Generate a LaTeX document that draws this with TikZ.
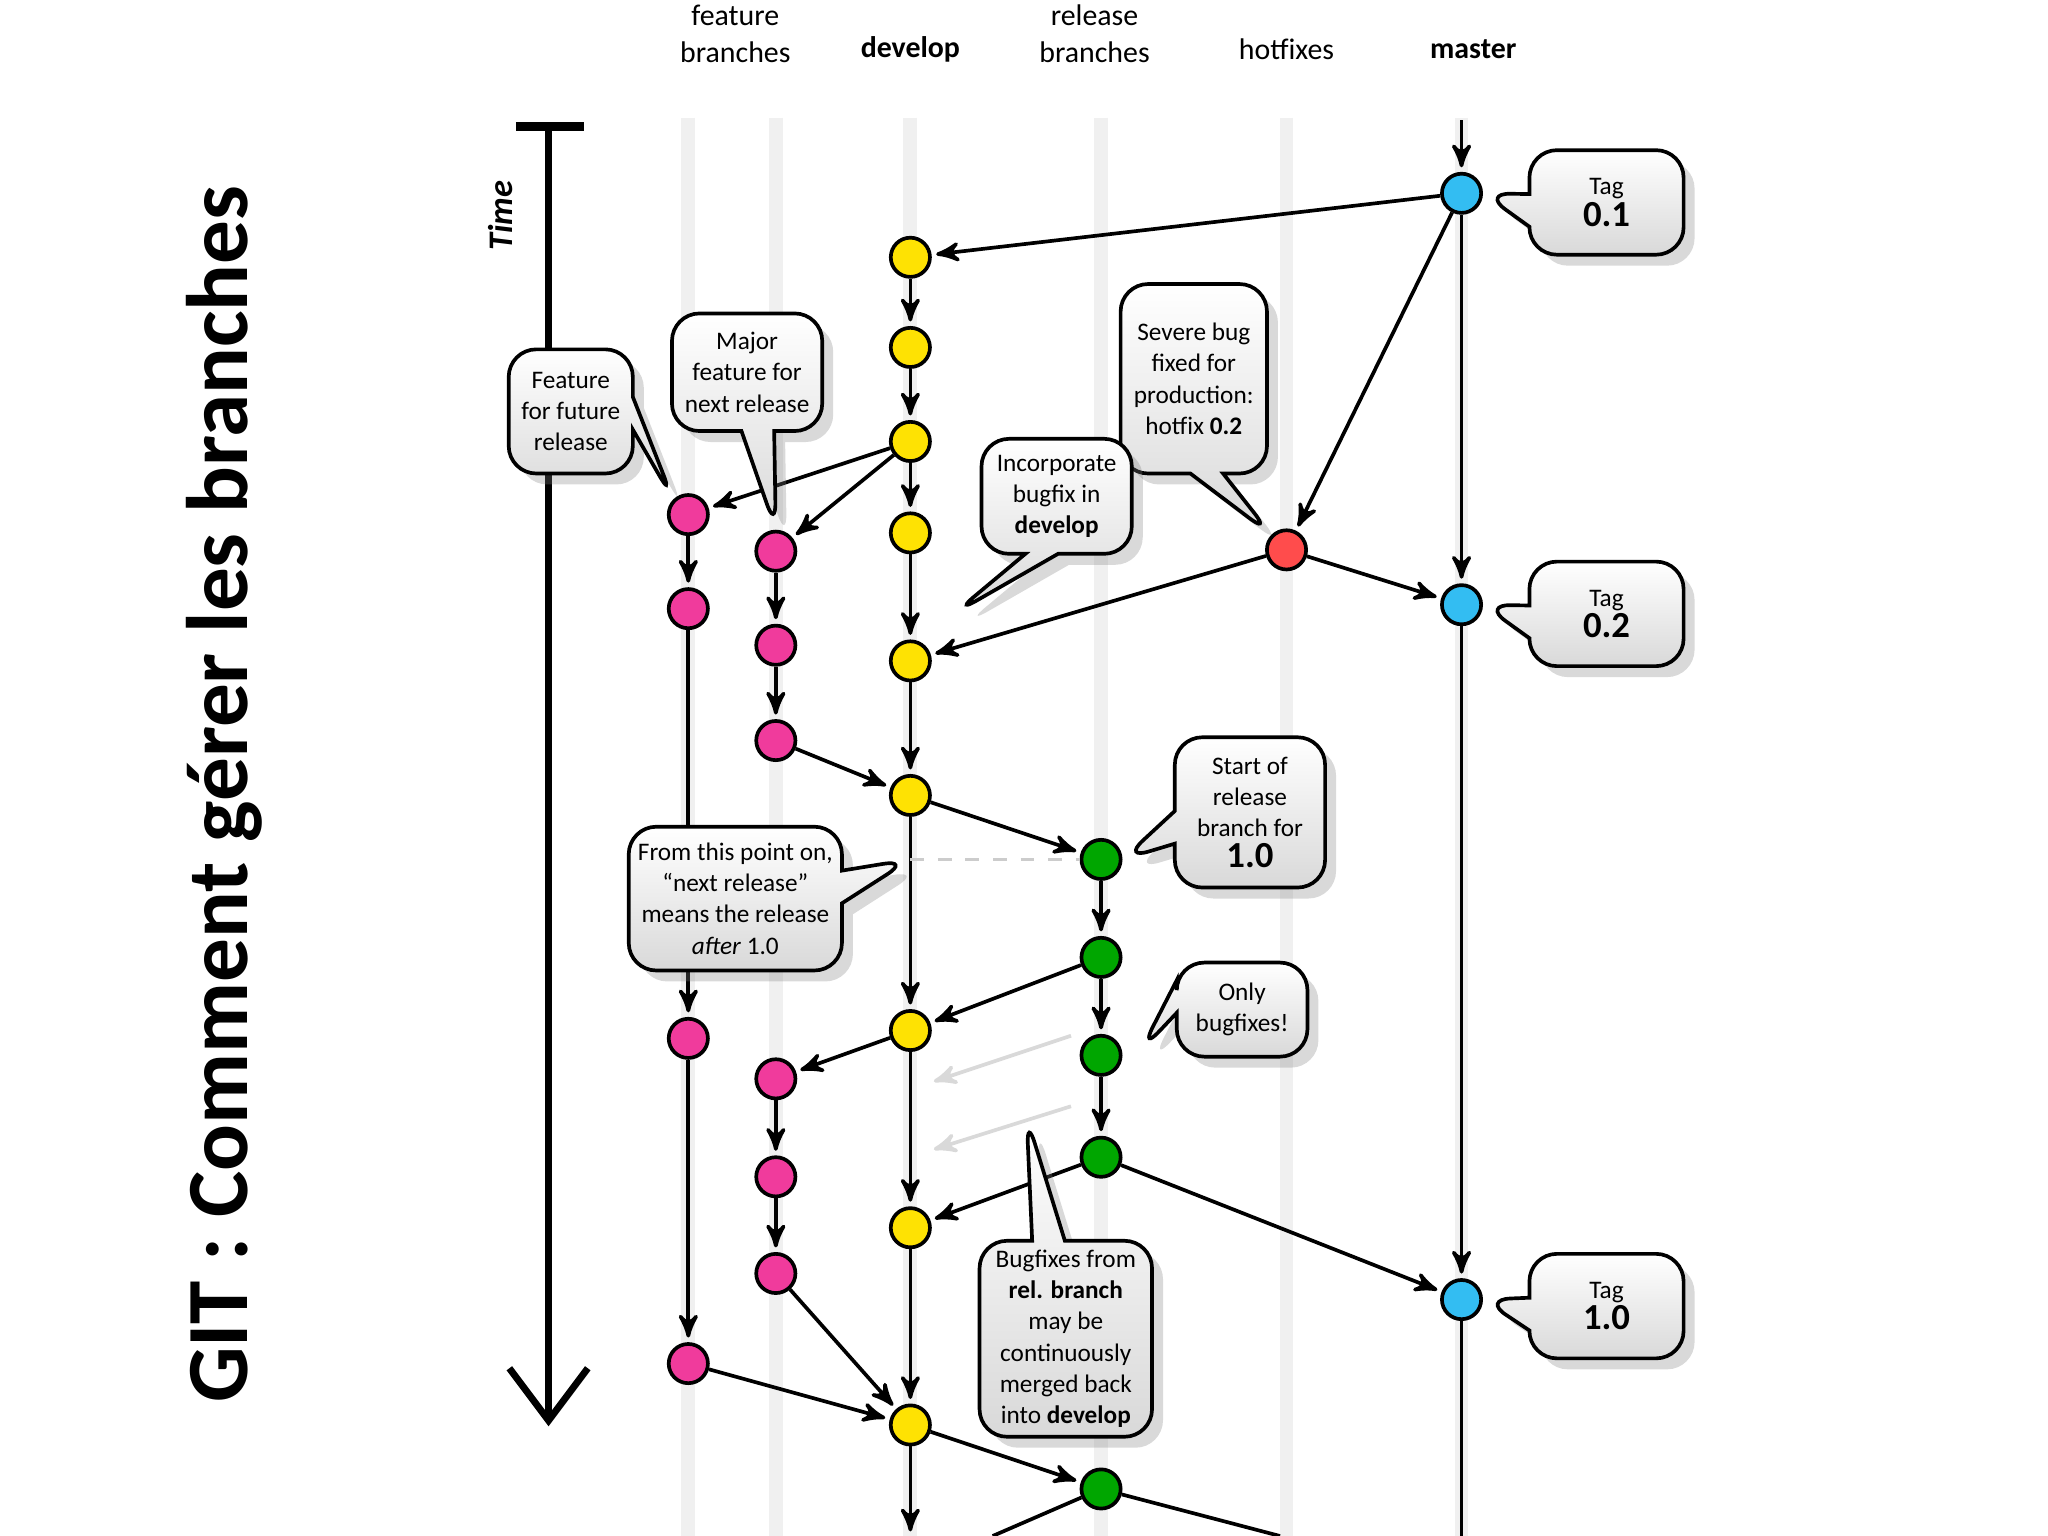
\documentclass[tikz,border=0pt]{standalone}
\usepackage{fontspec}
\setmainfont{Carlito}
\usetikzlibrary{arrows,arrows.meta,shapes.callouts,shadows}

\begin{document}
\begin{tikzpicture}[x=0.01cm,y=-0.01cm,>=stealth']
	\tikzstyle{commit}=[circle,draw,thick,minimum size=0.3cm,inner sep=0pt]
	\tikzstyle{dev}=[commit,fill=yellow!85!orange]
	\tikzstyle{feat}=[commit,fill=magenta!70!pink]
	\tikzstyle{rel}=[commit,fill=green!65!black]
	\tikzstyle{mast}=[commit,fill=cyan!80]
	\tikzstyle{hot}=[commit,fill=red!70]
	\tikzstyle{flow}=[draw,->,thick,shorten >=1pt]
	\tikzstyle{lane}=[draw,line width=3pt,gray!12]
	\tikzstyle{bubble}=[rectangle callout,draw,thick,rounded corners=6pt,top color=white,bottom color=gray!30,
		drop shadow={opacity=0.3},align=center,font=\fontsize{5.5}{6.8}\selectfont,inner sep=2pt]
	\tikzstyle{head}=[align=center,font=\fontsize{6.5}{8}\selectfont]
	\newcommand{\tagnum}[1]{\textbf{\fontsize{8}{9}\selectfont #1}}

	\useasboundingbox (0,0) rectangle (1568,1176);

	% title and time axis
	\node[rotate=90,font=\fontsize{19}{23}\selectfont\bfseries] (title) at (172,608) {GIT : Comment gérer les branches};
	\node[rotate=90,font=\fontsize{7.5}{9}\selectfont\bfseries\itshape] (time) at (383,165) {Time};
	\coordinate (t0) at (420,97);
	\coordinate (t1) at (420,1092);
	\draw[line width=2pt] (395,97) -- (447,97);
	\draw[line width=1.5pt,-{Straight Barb[length=4mm,width=6mm]}] (t0) -- (t1);

	% column headings
	\node[head] (hf) at (563,26) {feature\\branches};
	\node[head,font=\fontsize{6.5}{8}\selectfont\bfseries] (hd) at (697,38) {develop};
	\node[head] (hr) at (838,26) {release\\branches};
	\node[head] (hh) at (985,38) {hotfixes};
	\node[head,font=\fontsize{6.5}{8}\selectfont\bfseries] (hm) at (1128,38) {master};

	% lanes
	\foreach \x in {527,594,697,843,985,1119}
		\path[lane] (\x,90) -- (\x,1176);

	% commits
	\node[mast] (m1) at (1119,148) {};
	\node[mast] (m2) at (1119,463) {};
	\node[mast] (m3) at (1119,995) {};
	\node[hot] (h1) at (985,421) {};
	\node[dev] (d1) at (697,197) {};
	\node[dev] (d2) at (697,266) {};
	\node[dev] (d3) at (697,338) {};
	\node[dev] (d4) at (697,408) {};
	\node[dev] (d5) at (697,506) {};
	\node[dev] (d6) at (697,609) {};
	\node[dev] (d7) at (697,789) {};
	\node[dev] (d8) at (697,940) {};
	\node[dev] (d9) at (697,1091) {};
	\node[feat] (f1) at (527,394) {};
	\node[feat] (f2) at (527,466) {};
	\node[feat] (f3) at (527,795) {};
	\node[feat] (f4) at (527,1044) {};
	\node[feat] (g1) at (594,422) {};
	\node[feat] (g2) at (594,494) {};
	\node[feat] (g3) at (594,567) {};
	\node[feat] (g4) at (594,826) {};
	\node[feat] (g5) at (594,901) {};
	\node[feat] (g6) at (594,975) {};
	\node[rel] (r1) at (843,658) {};
	\node[rel] (r2) at (843,733) {};
	\node[rel] (r3) at (843,808) {};
	\node[rel] (r4) at (843,886) {};
	\node[rel] (r5) at (843,1140) {};

	\coordinate (mtop) at (1119,92);
	\coordinate (dend) at (697,1176);
	\coordinate (mend) at (1119,1176);
	\coordinate (rend) at (980,1176);
	\coordinate (lend) at (760,1176);
	\coordinate (dlev) at (697,658);

	% connectors
	\path[flow] (mtop) -- (m1);
	\path[flow] (m1) -- (d1);
	\path[flow] (m1) -- (h1);
	\path[flow] (m1) -- (m2);
	\path[flow] (h1) -- (m2);
	\path[flow] (h1) -- (d5);
	\path[flow] (m2) -- (m3);
	\draw[thick] (m3) -- (mend);
	\path[flow] (d1) -- (d2);
	\path[flow] (d2) -- (d3);
	\path[flow] (d3) -- (d4);
	\path[flow] (d4) -- (d5);
	\path[flow] (d5) -- (d6);
	\path[flow] (d6) -- (d7);
	\path[flow] (d7) -- (d8);
	\path[flow] (d8) -- (d9);
	\path[flow] (d9) -- (dend);
	\path[flow] (d3) -- (f1);
	\path[flow] (d3) -- (g1);
	\path[flow] (f1) -- (f2);
	\path[flow] (f2) -- (f3);
	\path[flow] (f3) -- (f4);
	\path[flow] (f4) -- (d9);
	\path[flow] (g1) -- (g2);
	\path[flow] (g2) -- (g3);
	\path[flow] (g3) -- (d6);
	\path[flow] (d6) -- (r1);
	\draw[thick,dashed,gray!40] (dlev) -- (r1);
	\path[flow] (r1) -- (r2);
	\path[flow] (r2) -- (r3);
	\path[flow] (r3) -- (r4);
	\path[flow] (r2) -- (d7);
	\path[flow] (r4) -- (d8);
	\path[flow] (r4) -- (m3);
	\path[flow] (d7) -- (g4);
	\path[flow] (g4) -- (g5);
	\path[flow] (g5) -- (g6);
	\path[flow] (g6) -- (d9);
	\path[flow] (d9) -- (r5);
	\draw[thick] (r5) -- (rend);
	\draw[thick] (lend) -- (r5);
	\draw[->,thick,gray!30] (820,793) -- (715,828);
	\draw[->,thick,gray!30] (820,847) -- (715,880);

	% callouts
	\node[bubble,minimum width=0.95cm,minimum height=0.95cm,callout absolute pointer={(f1.north west)}] (c1) at (437,315) {Feature\\for future\\release};
	\node[bubble,minimum width=1.15cm,minimum height=0.9cm,callout absolute pointer={(g1.north)}] (c2) at (572,285) {Major\\feature for\\next release};
	\node[bubble,minimum width=1.12cm,minimum height=1.45cm,callout absolute pointer={(h1.north west)}] (c3) at (914,290) {Severe bug\\fixed for\\production:\\hotfix \textbf{0.2}};
	\node[bubble,minimum width=1.15cm,minimum height=0.88cm,callout absolute pointer={(730,470)}] (c4) at (809,380) {Incorporate\\bugfix in\\\textbf{develop}};
	\node[bubble,minimum width=1.15cm,minimum height=1.15cm,callout absolute pointer={(r1.east)}] (c5) at (957,622) {Start of\\release\\branch for\\\tagnum{1.0}};
	\node[bubble,minimum width=1.6cm,minimum height=1.1cm,callout absolute pointer={(dlev)}] (c6) at (563,688) {From this point on,\\``next release''\\means the release\\\textit{after} 1.0};
	\node[bubble,minimum width=1.0cm,minimum height=0.72cm,callout absolute pointer={(873,805)}] (c7) at (951,773) {Only\\bugfixes!};
	\node[bubble,minimum width=1.32cm,minimum height=1.47cm,callout absolute pointer={(786,855)}] (c8) at (816,1025) {Bugfixes from\\\textbf{rel. branch}\\may be\\continuously\\merged back\\into \textbf{develop}};
	\node[bubble,minimum width=1.18cm,minimum height=0.8cm,callout absolute pointer={(m1.east)}] (t01) at (1230,155) {Tag\\\tagnum{0.1}};
	\node[bubble,minimum width=1.18cm,minimum height=0.8cm,callout absolute pointer={(m2.east)}] (t02) at (1230,470) {Tag\\\tagnum{0.2}};
	\node[bubble,minimum width=1.18cm,minimum height=0.8cm,callout absolute pointer={(m3.east)}] (t10) at (1230,1000) {Tag\\\tagnum{1.0}};
\end{tikzpicture}
\end{document}
